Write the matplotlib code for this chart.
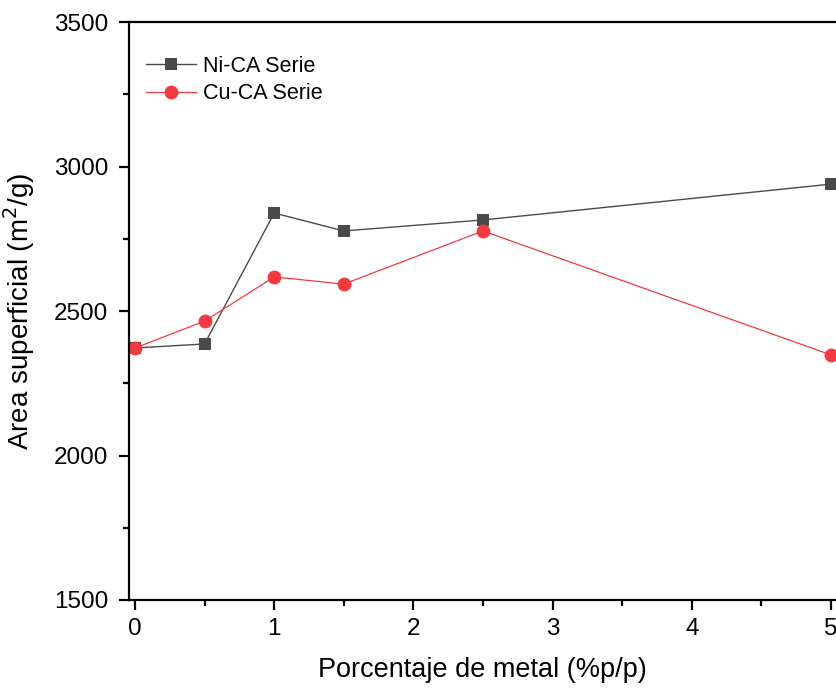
import matplotlib
matplotlib.use("Agg")
import matplotlib.pyplot as plt
from matplotlib.ticker import MultipleLocator

plt.rcParams['font.family'] = ['Liberation Sans', 'DejaVu Sans']

# datos
metal = [0, 0.5, 1, 1.5, 2.5, 5]
ni_ca = [2372, 2386, 2839, 2777, 2815, 2939]
cu_ca = [2372, 2465, 2618, 2593, 2777, 2348]

fig = plt.figure(figsize=(8.36, 6.90), dpi=100)
ax = fig.add_axes([129/836, 1 - 600/690, 1 - 129/836, (600 - 22)/690])

ax.plot(metal, ni_ca, color='#4a4a4a', lw=1.0, marker='s', ms=8.5,
        markeredgewidth=0, label='Ni-CA Serie')
ax.plot(metal, cu_ca, color='#f23a40', lw=0.9, marker='o', ms=10,
        markeredgewidth=0, label='Cu-CA Serie')

ax.set_xlim(-0.043, 5.036)
ax.set_ylim(1500, 3500)
ax.xaxis.set_major_locator(MultipleLocator(1))
ax.xaxis.set_minor_locator(MultipleLocator(0.5))
ax.yaxis.set_major_locator(MultipleLocator(500))
ax.yaxis.set_minor_locator(MultipleLocator(250))

for s in ['left', 'bottom', 'top']:
    ax.spines[s].set_linewidth(1.6)
ax.spines['right'].set_visible(False)

ax.tick_params(which='major', direction='out', length=7, width=1.6,
               labelsize=17.5, pad=6)
ax.tick_params(axis='y', which='major', pad=8)
ax.tick_params(which='minor', direction='out', length=4, width=1.6)
ax.tick_params(axis='x', which='both', top=False)

ax.set_xlabel('Porcentaje de metal (%p/p)', fontsize=19.5, labelpad=12)
ax.set_ylabel('Area superficial (m$^2$/g)', fontsize=20, labelpad=12)

ax.legend(loc='upper left', frameon=False, fontsize=15.5,
          bbox_to_anchor=(-0.003, 0.975), handlelength=2.3, handletextpad=0.35,
          labelspacing=0.3)

fig.savefig('out.png', dpi=100)
